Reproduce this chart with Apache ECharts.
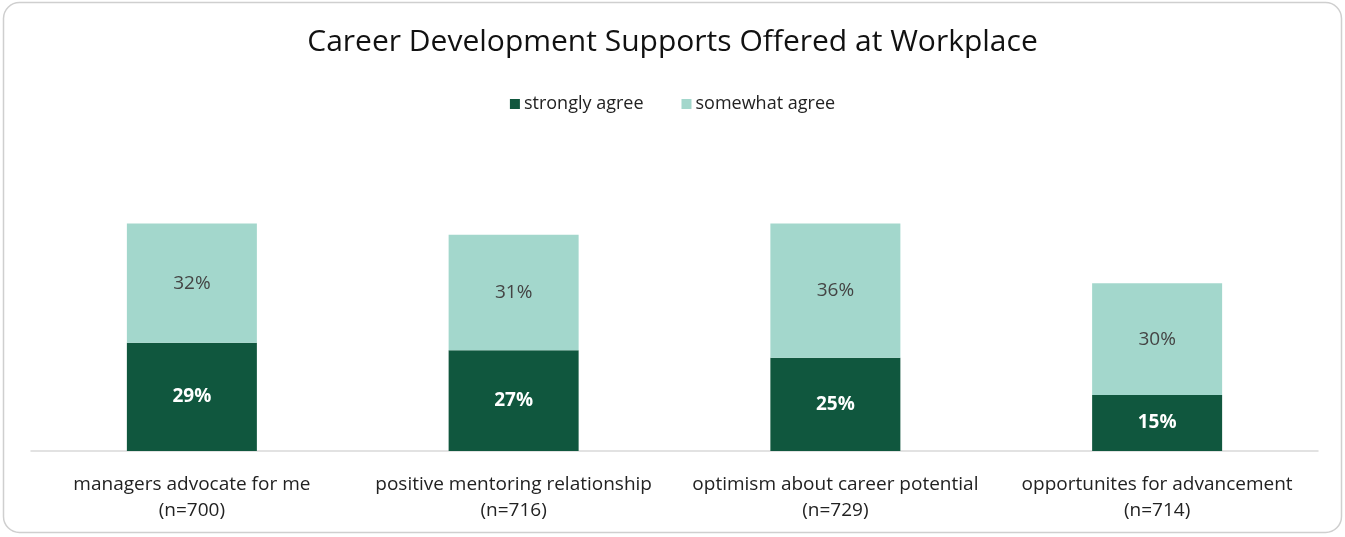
<!DOCTYPE html>
<html>
<head>
<meta charset="utf-8">
<script src="https://cdn.jsdelivr.net/npm/echarts@6/dist/echarts.min.js"></script>
<style>
  html, body { margin: 0; padding: 0; background: #ffffff; }
  #chart { width: 1345px; height: 537px; }
</style>
</head>
<body>
<div id="chart"></div>
<script>
// Survey items (two-line labels) and the share of respondents per response
const categories = [
  'managers advocate for me\n(n=700)',
  'positive mentoring relationship\n(n=716)',
  'optimism about career potential\n(n=729)',
  'opportunites for advancement\n(n=714)'
];
const stronglyAgree = [29, 27, 25, 15];
const somewhatAgree = [32, 31, 36, 30];

const chart = echarts.init(document.getElementById('chart'));
const font = '"Open Sans", "Noto Sans", sans-serif';

chart.setOption({
  animation: false,
  backgroundColor: '#ffffff',
  graphic: [{
    type: 'rect',
    shape: { x: 3.5, y: 2.5, width: 1338, height: 530, r: 16 },
    style: { fill: 'none', stroke: '#cfcfcf', lineWidth: 1.5 },
    z: -1
  }],
  title: {
    text: 'Career Development Supports Offered at Workplace',
    left: 'center',
    top: 22,
    textStyle: { fontFamily: font, fontSize: 30, fontWeight: 'normal', color: '#111111' }
  },
  legend: {
    top: 90,
    left: 'center',
    itemWidth: 10,
    itemHeight: 10,
    itemGap: 38,
    icon: 'rect',
    textStyle: { fontFamily: font, fontSize: 18, color: '#222222', padding: [0, 0, 0, -1] },
    data: ['strongly agree', 'somewhat agree']
  },
  grid: { left: 31, right: 27, top: 190, bottom: 86, containLabel: false },
  xAxis: {
    type: 'category',
    data: categories,
    axisLine: { lineStyle: { color: '#d9d9d9', width: 1.5 } },
    axisTick: { show: false },
    axisLabel: {
      fontFamily: font, fontSize: 19, color: '#222222',
      lineHeight: 26, margin: 21, interval: 0
    }
  },
  yAxis: {
    type: 'value',
    min: 0,
    max: 70,
    show: false,
    splitLine: { show: false }
  },
  series: [
    {
      name: 'strongly agree',
      type: 'bar',
      stack: 'total',
      data: stronglyAgree,
      barWidth: 130,
      itemStyle: { color: '#10573e' },
      label: {
        show: true, position: 'inside', formatter: '{c}%',
        fontFamily: font, fontSize: 19, fontWeight: 'bold', color: '#ffffff'
      }
    },
    {
      name: 'somewhat agree',
      type: 'bar',
      stack: 'total',
      data: somewhatAgree,
      barWidth: 130,
      itemStyle: { color: '#a3d7cc' },
      label: {
        show: true, position: 'inside', formatter: '{c}%',
        fontFamily: font, fontSize: 19, color: '#444444'
      }
    }
  ]
});
</script>
</body>
</html>
